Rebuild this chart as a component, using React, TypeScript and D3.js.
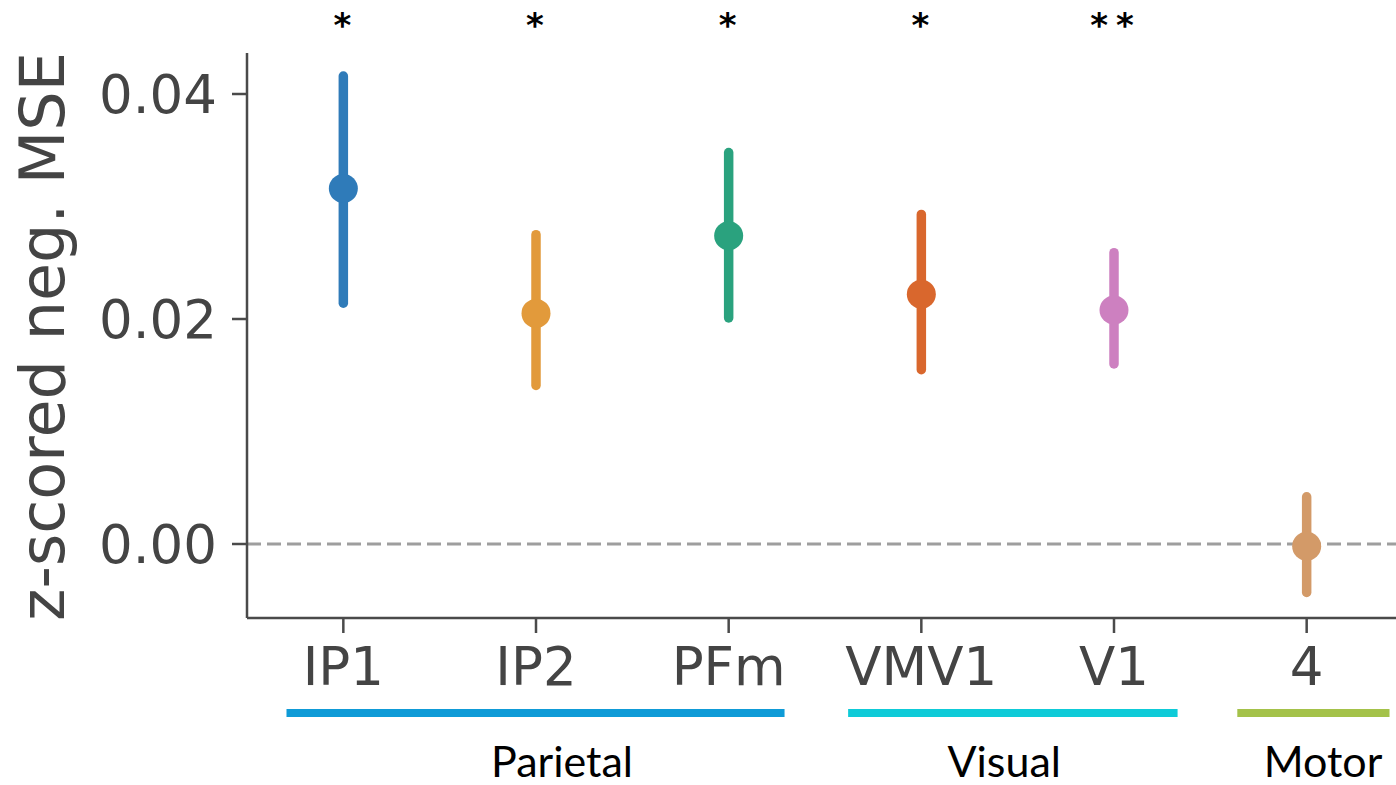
import React from "react";
import * as d3 from "d3";

const regions = ["IP1", "IP2", "PFm", "VMV1", "V1", "4"];
const means = [0.0316, 0.0205, 0.0274, 0.0222, 0.0208, -0.0002];
const lowers = [0.0214, 0.0141, 0.0201, 0.0155, 0.016, -0.0043];
const uppers = [0.0416, 0.0275, 0.0348, 0.0293, 0.0259, 0.0042];
const colors = ["#2f7bb9", "#e29a3b", "#2aa27e", "#d9672d", "#cd80c0", "#d39a68"];
const stars = ["*", "*", "*", "*", "**", ""];
const yTicks = [0.0, 0.02, 0.04];

const groupNames = ["Parietal", "Visual", "Motor"];
const groupStart = ["IP1", "VMV1", "4"];
const groupEnd = ["PFm", "V1", "4"];
const groupColors = ["#0f9bd7", "#0ecbd8", "#a4c24a"];

export default function App() {
  const W = 1396;
  const H = 785;
  const left = 247;
  const plotRight = 1403;
  const x = d3.scalePoint<string>().domain(regions).range([left, plotRight]).padding(0.5);
  const y = d3.scaleLinear().domain([0, 0.02]).range([544, 319]);
  const yTop = y(0.04364);
  const yBottom = 618;
  const axisColor = "#4a4a4a";
  const tickFont = "'DejaVu Sans', sans-serif";
  const step = x.step();
  // extents of the group underline bars, in units of category step
  const barPadL = [0.295, 0.38, 0.36];
  const barPadR = [0.29, 0.33, 0.43];
  const labelShift = [0.135, -0.07, 0.085];

  return (
    <svg width={W} height={H} style={{ display: "block", position: "absolute", left: 0, top: 0 }}>
      <rect x={0} y={0} width={W} height={H} fill="#ffffff" />
      {/* zero line */}
      <line x1={left} x2={W} y1={y(0)} y2={y(0)} stroke="#9e9e9e" strokeWidth={3} strokeDasharray="14,6" />
      {/* spines */}
      <line x1={left} x2={left} y1={yTop} y2={yBottom} stroke={axisColor} strokeWidth={2.5} />
      <line x1={left} x2={W} y1={yBottom} y2={yBottom} stroke={axisColor} strokeWidth={2.5} />
      {/* y ticks */}
      {yTicks.map((t) => (
        <g key={t}>
          <line x1={left - 15} x2={left} y1={y(t)} y2={y(t)} stroke={axisColor} strokeWidth={2.5} />
          <text x={left - 30} y={y(t)} dy="0.36em" textAnchor="end" fontFamily={tickFont} fontSize={53} fill="#444">
            {d3.format(".2f")(t)}
          </text>
        </g>
      ))}
      {/* y label */}
      <text
        transform={`translate(${64},${(yTop + yBottom) / 2 + 1}) rotate(-90)`}
        textAnchor="middle"
        fontFamily={tickFont}
        fontSize={62}
        fill="#444"
      >
        z-scored neg. MSE
      </text>
      {/* x ticks */}
      {regions.map((r) => (
        <g key={r}>
          <line x1={x(r)!} x2={x(r)!} y1={yBottom} y2={yBottom + 15} stroke={axisColor} strokeWidth={2.5} />
          <text x={x(r)!} y={685} textAnchor="middle" fontFamily={tickFont} fontSize={53} fill="#444">
            {r}
          </text>
        </g>
      ))}
      {/* points */}
      {regions.map((r, i) => (
        <g key={r}>
          <line
            x1={x(r)!}
            x2={x(r)!}
            y1={y(lowers[i])}
            y2={y(uppers[i])}
            stroke={colors[i]}
            strokeWidth={9.5}
            strokeLinecap="round"
          />
          <circle cx={x(r)!} cy={y(means[i])} r={14.5} fill={colors[i]} />
          {stars[i] && (
            <text
              x={x(r)! + (stars[i].length > 1 ? 2 : -1)}
              y={37}
              textAnchor="middle"
              fontFamily="'DejaVu Sans', sans-serif"
              fontWeight="bold"
              fontSize={34}
              letterSpacing={stars[i].length > 1 ? 8 : 0}
              fill="#000"
            >
              {stars[i]}
            </text>
          )}
        </g>
      ))}
      {/* group bars */}
      {groupNames.map((g, i) => {
        const x0 = x(groupStart[i])! - step * barPadL[i];
        const x1 = x(groupEnd[i])! + step * barPadR[i];
        const mid = (x(groupStart[i])! + x(groupEnd[i])!) / 2 + step * labelShift[i];
        return (
          <g key={g}>
            <rect x={x0} y={709} width={x1 - x0} height={8} fill={groupColors[i]} />
            <text
              x={mid}
              y={777}
              textAnchor="middle"
              fontFamily="Lato, 'Open Sans', sans-serif"
              fontSize={43}
              fill="#000"
            >
              {g}
            </text>
          </g>
        );
      })}
    </svg>
  );
}
